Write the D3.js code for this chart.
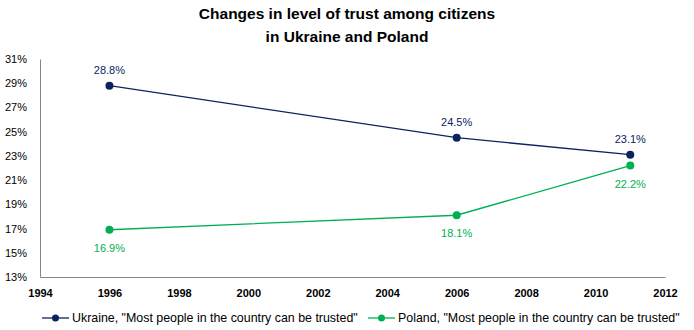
<!DOCTYPE html>
<html lang="en">
<head>
<meta charset="UTF-8">
<title>Trust in Ukraine and Poland</title>
<script src="https://d3js.org/d3.v7.min.js"></script>
<style>
  body { margin: 0; background: #fff; }
  text { font-family: "Liberation Sans", Arial, sans-serif; }
</style>
</head>
<body>
<script>
var years = [1996, 2006, 2011];
var ukraine = [28.8, 24.5, 23.1];
var poland = [16.9, 18.1, 22.2];
var xTicks = [1994, 1996, 1998, 2000, 2002, 2004, 2006, 2008, 2010, 2012];
var yTicks = [13, 15, 17, 19, 21, 23, 25, 27, 29, 31];
var seriesNames = ['Ukraine, "Most people in the country can be trusted"',
                   'Poland, "Most people in the country can be trusted"'];
var colors = ["#0d2360", "#00b050"];

var W = 694, H = 330;
var plotLeft = 40, plotRight = 665, plotTop = 59, plotBottom = 277;

var svg = d3.select("body").append("svg").attr("width", W).attr("height", H);

var x = d3.scaleLinear().domain([1994, 2012]).range([plotLeft, plotRight]);
var y = d3.scaleLinear().domain([13, 31]).range([plotBottom, plotTop]);

// title
svg.append("text").attr("x", 347).attr("y", 19).attr("text-anchor", "middle")
   .style("font-size", "15.5px").style("font-weight", "bold")
   .text("Changes in level of trust among citizens");
svg.append("text").attr("x", 347).attr("y", 42).attr("text-anchor", "middle")
   .style("font-size", "15.5px").style("font-weight", "bold")
   .text("in Ukraine and Poland");

// axes
var xAxis = svg.append("g").attr("transform", "translate(0," + plotBottom + ")")
   .call(d3.axisBottom(x).tickValues(xTicks).tickFormat(d3.format("d")).tickSize(0).tickPadding(12));
xAxis.selectAll("text").style("font-size", "11px").style("font-weight", "bold").attr("fill", "#000");
xAxis.select(".domain").attr("stroke", "#868686");

var yAxis = svg.append("g").attr("transform", "translate(" + plotLeft + ",0)")
   .call(d3.axisLeft(y).tickValues(yTicks).tickFormat(function(d){ return d + "%"; }).tickSize(0).tickPadding(13));
yAxis.selectAll("text").style("font-size", "11px").attr("fill", "#000");
yAxis.select(".domain").attr("stroke", "#868686");

var line = d3.line().x(function(d){ return x(d[0]); }).y(function(d){ return y(d[1]); });

var data = [ukraine, poland];
data.forEach(function(vals, i) {
  var pts = years.map(function(yr, j){ return [yr, vals[j]]; });
  svg.append("path").attr("d", line(pts)).attr("fill", "none")
     .attr("stroke", colors[i]).attr("stroke-width", 1.3);
  svg.selectAll(".pt" + i).data(pts).enter().append("circle")
     .attr("cx", function(d){ return x(d[0]); })
     .attr("cy", function(d){ return y(d[1]); })
     .attr("r", 4).attr("fill", colors[i]);
  svg.selectAll(".lbl" + i).data(pts).enter().append("text")
     .attr("x", function(d){ return x(d[0]); })
     .attr("y", function(d){ return y(d[1]) + (i === 0 ? -12 : 22); })
     .attr("text-anchor", "middle")
     .style("font-size", "11px").style("font-weight", "500")
     .attr("fill", colors[i])
     .text(function(d){ return d[1].toFixed(1) + "%"; });
});

// legend
var legX = [42, 368];
seriesNames.forEach(function(name, i) {
  var g = svg.append("g").attr("transform", "translate(" + legX[i] + ",318)");
  g.append("line").attr("x1", 0).attr("x2", 27).attr("y1", 0).attr("y2", 0)
   .attr("stroke", colors[i]).attr("stroke-width", 1.3);
  g.append("circle").attr("cx", 13.5).attr("cy", 0).attr("r", 3.5).attr("fill", colors[i]);
  g.append("text").attr("x", 30).attr("y", 4).style("font-size", "12.4px").attr("fill", "#000").text(name);
});
</script>
</body>
</html>
